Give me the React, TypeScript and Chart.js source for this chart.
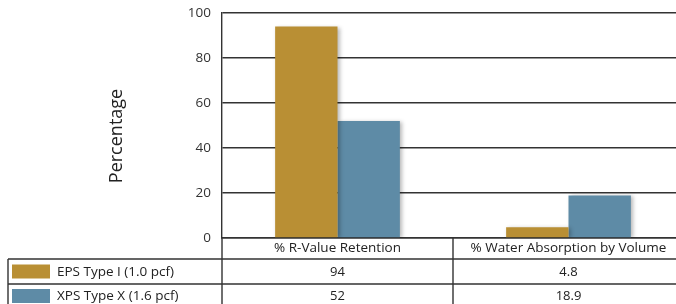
import React, { useEffect, useRef } from "react";
import { Chart, registerables } from "chart.js";

Chart.register(...registerables);

const categories = ["% R-Value Retention", "% Water Absorption by Volume"];
const seriesNames = ["EPS Type I (1.0 pcf)", "XPS Type X (1.6 pcf)"];
const epsValues = [94, 4.8];
const xpsValues = [52, 18.9];
const epsLabels = ["94", "4.8"];
const xpsLabels = ["52", "18.9"];
const yTicks = [0, 20, 40, 60, 80, 100];
const yTitle = "Percentage";

const GOLD = "#B98F34";
const BLUE = "#5E8BA6";
const LINE = "#333333";
const TEXT = "#222222";
const FONT = "'Open Sans', 'Noto Sans', sans-serif";

const tablePlugin = {
  id: "dataTable",
  beforeDatasetsDraw(chart: any) {
    const ctx = chart.ctx;
    ctx.save();
    ctx.shadowColor = "rgba(0,0,0,0.28)";
    ctx.shadowBlur = 4;
    ctx.shadowOffsetX = 2;
    ctx.shadowOffsetY = 1;
  },
  afterDatasetsDraw(chart: any) {
    chart.ctx.restore();
  },
  afterDraw(chart: any) {
    const ctx = chart.ctx;
    const area = chart.chartArea;
    const x = chart.scales.x;
    const top = area.bottom;
    const headerBottom = top + 21;
    const row1Bottom = headerBottom + 25;
    const row2Bottom = row1Bottom + 24;
    const legendLeft = 8;
    const right = area.right;
    const colW = (area.right - area.left) / categories.length;

    ctx.save();
    ctx.strokeStyle = LINE;
    ctx.lineWidth = 1.4;
    ctx.beginPath();
    [headerBottom, row1Bottom, row2Bottom].forEach((yy) => {
      ctx.moveTo(legendLeft, yy);
      ctx.lineTo(right, yy);
    });
    ctx.moveTo(legendLeft, headerBottom);
    ctx.lineTo(legendLeft, row2Bottom);
    ctx.moveTo(area.left, top);
    ctx.lineTo(area.left, row2Bottom);
    for (let i = 1; i < categories.length; i++) {
      const xx = area.left + colW * i;
      ctx.moveTo(xx, top);
      ctx.lineTo(xx, row2Bottom);
    }
    ctx.stroke();

    const rows = [
      { top: headerBottom, bottom: row1Bottom, color: GOLD, name: seriesNames[0], vals: epsLabels },
      { top: row1Bottom, bottom: row2Bottom, color: BLUE, name: seriesNames[1], vals: xpsLabels },
    ];
    rows.forEach((r) => {
      const mid = (r.top + r.bottom) / 2;
      ctx.fillStyle = r.color;
      ctx.fillRect(12, mid - 7, 38, 14);
      ctx.fillStyle = TEXT;
      ctx.font = `13.5px ${FONT}`;
      ctx.textAlign = "left";
      ctx.textBaseline = "middle";
      ctx.fillText(r.name, 57, mid + 0.5);
      ctx.textAlign = "center";
      ctx.font = `13px ${FONT}`;
      r.vals.forEach((v, i) => {
        ctx.fillText(v, x.getPixelForValue(i), mid + 0.5);
      });
    });

    ctx.save();
    ctx.translate(117, (area.top + headerBottom) / 2);
    ctx.rotate(-Math.PI / 2);
    ctx.font = `18px ${FONT}`;
    ctx.fillStyle = TEXT;
    ctx.textAlign = "center";
    ctx.textBaseline = "middle";
    ctx.fillText(yTitle, 0, 0);
    ctx.restore();
    ctx.restore();
  },
};

export default function App() {
  const ref = useRef<HTMLCanvasElement>(null);
  useEffect(() => {
    if (!ref.current) return;
    const chart = new Chart(ref.current, {
      type: "bar",
      data: {
        labels: categories,
        datasets: [
          { label: seriesNames[0], data: epsValues, backgroundColor: GOLD },
          { label: seriesNames[1], data: xpsValues, backgroundColor: BLUE },
        ],
      },
      options: {
        animation: false,
        responsive: true,
        maintainAspectRatio: false,
        devicePixelRatio: 1,
        layout: { padding: { top: 13, right: 6, left: 0, bottom: 0 } },
        datasets: { bar: { categoryPercentage: 0.54, barPercentage: 1.0 } },
        plugins: { legend: { display: false }, tooltip: { enabled: false } },
        scales: {
          x: {
            grid: { display: false, drawTicks: false },
            border: { display: true, color: LINE, width: 1.4 },
            ticks: {
              color: TEXT,
              font: { family: FONT, size: 13.5 },
              padding: 2,
              maxRotation: 0,
            },
            afterFit(scale: any) {
              scale.height = 82;
              scale.paddingLeft = 0;
              scale.paddingRight = 0;
            },
          },
          y: {
            min: 0,
            max: 100,
            afterBuildTicks(scale: any) {
              scale.ticks = yTicks.map((v) => ({ value: v }));
            },
            grid: { color: LINE, lineWidth: 1.4, drawTicks: false },
            border: { display: true, color: LINE, width: 1.4 },
            ticks: {
              color: "#333",
              font: { family: FONT, size: 13.5 },
              padding: 11,
            },
            afterFit(scale: any) {
              scale.width = 222;
              scale.paddingTop = 0;
              scale.paddingBottom = 0;
            },
          },
        },
      },
      plugins: [tablePlugin],
    });
    return () => chart.destroy();
  }, []);
  return (
    <div style={{ position: "absolute", left: 0, top: 0, width: 676, height: 304, overflow: "hidden", background: "#fff" }}>
      <div style={{ position: "relative", width: 690, height: 320 }}>
        <canvas ref={ref} />
      </div>
    </div>
  );
}
